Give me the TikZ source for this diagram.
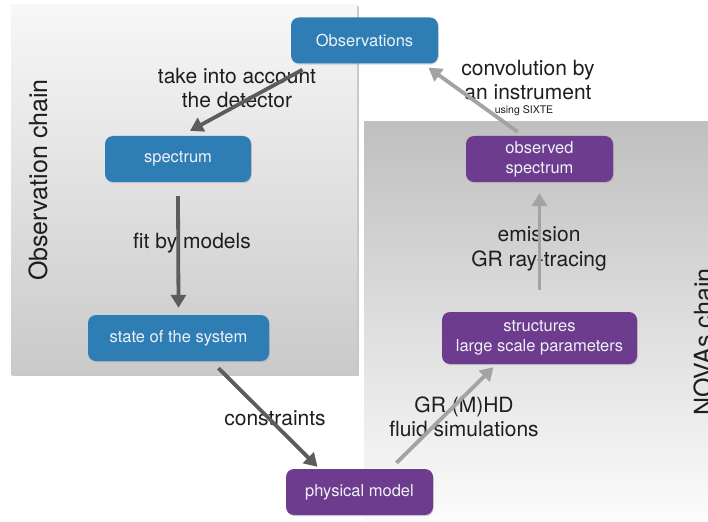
\documentclass[tikz,border=0pt]{standalone}
\usepackage{fontspec}
\setmainfont{TeX Gyre Heros}
\usetikzlibrary{arrows.meta,shadows}
\definecolor{nblue}{HTML}{2F7DB5}
\definecolor{npurple}{HTML}{6D3C8E}
\definecolor{darr}{HTML}{5C5C5C}
\definecolor{larr}{HTML}{A3A3A3}
\definecolor{txt}{HTML}{1E1E1E}
\definecolor{ntxt}{HTML}{EEF2F6}
\begin{document}
\begin{tikzpicture}[x=1pt,y=-1pt,
  box/.style={rounded corners=8pt, minimum height=46pt, text=ntxt,
    font=\fontsize{16.5}{20}\selectfont, align=center, inner sep=2pt,
    drop shadow={shadow xshift=0.8pt, shadow yshift=-1.2pt, opacity=0.3}},
  bluebox/.style={box, fill=nblue},
  purplebox/.style={box, fill=npurple},
  darrow/.style={draw=darr, line width=3.8pt, -{Triangle[length=13pt,width=15pt]}},
  larrow/.style={draw=larr, line width=3.8pt, -{Triangle[length=13pt,width=15pt]}},
  lab/.style={text=txt, font=\fontsize{21}{24.5}\selectfont, align=center, inner sep=0pt},
  chain/.style={text=txt, font=\fontsize{25}{30}\selectfont, rotate=90, anchor=base, inner sep=0pt},
]
\path[use as bounding box] (0,0) rectangle (708,521);
\clip (0,0) rectangle (708,521);
\fill[white] (0,0) rectangle (708,521);
% panels
\fill[black!22] (12,6.5) rectangle (358.5,376);
\shade[top color=black!3, bottom color=black!21] (11,5) rectangle (357,374);
\shade[top color=black!25, bottom color=black!1] (364,122) rectangle (712,525);
% side titles
\node[chain] (ochain) at (47,180) {Observation chain};
\node[chain] (nchain) at (712,342) {NOVAs chain};
% labels
\node[lab] (l1) at (237,88) {take into account\\the detector};
\node[lab] (l2) at (192,243) {fit by models};
\node[lab] (l3) at (275,418) {constraints};
\node[lab] (l4) at (464,417) {GR (M)HD\\fluid simulations};
\node[lab] (l5) at (539,249) {emission\\GR ray-tracing};
\node[lab] (l6) at (528,80) {convolution by\\an instrument};
\node[text=txt, font=\fontsize{10.5}{12}\selectfont, inner sep=0pt] (l7) at (524,111) {using SIXTE};
% nodes
\node[bluebox, minimum width=147pt] (obs) at (364.5,40.5) {Observations};
\node[bluebox, minimum width=146pt] (spec) at (178,159) {spectrum};
\node[bluebox, minimum width=181pt] (state) at (178.5,338) {state of the system};
\node[purplebox, minimum width=147pt] (phys) at (359.5,492) {physical model};
\node[purplebox, minimum width=147pt] (ospec) at (539.5,159) {observed\\spectrum};
\node[purplebox, minimum width=195pt, minimum height=52pt] (struct) at (539.5,338) {structures\\large scale parameters};
% arrows
\draw[darrow] ([xshift=-62pt,yshift=-6pt]obs.south) -- ([xshift=12pt,yshift=5pt]spec.north);
\draw[darrow] ([yshift=-14pt]spec.south) -- ([yshift=7pt]state.north);
\draw[darrow] ([xshift=40pt,yshift=-7pt]state.south) -- ([xshift=-42pt,yshift=2pt]phys.north);
\draw[larrow] ([xshift=37pt,yshift=6pt]phys.north) -- ([xshift=-46pt,yshift=-3pt]struct.south);
\draw[larrow] ([yshift=22pt]struct.north) -- ([yshift=-11pt]ospec.south);
\draw[larrow] ([xshift=-22pt,yshift=4pt]ospec.north) -- ([xshift=64pt,yshift=-4pt]obs.south);
\end{tikzpicture}
\end{document}
